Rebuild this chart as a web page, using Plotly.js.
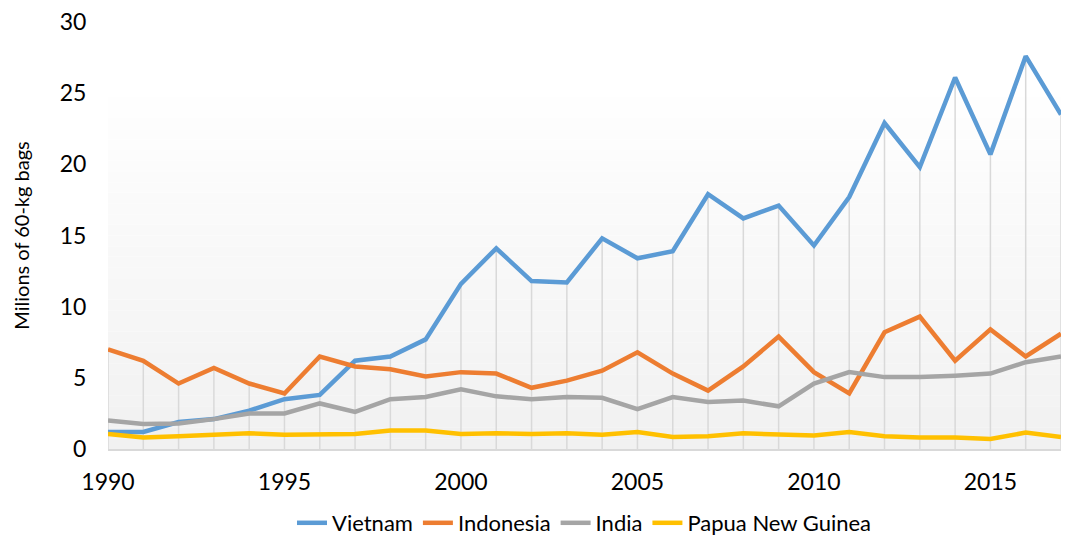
<!DOCTYPE html>
<html>
<head>
<meta charset="utf-8">
<script src="https://cdn.plot.ly/plotly-3.0.1.min.js"></script>
<style>html,body{margin:0;padding:0;background:#fff;}#chart{width:1065px;height:544px;}</style>
</head>
<body>
<div id="chart"></div>
<script>
var years = [1990,1991,1992,1993,1994,1995,1996,1997,1998,1999,2000,2001,2002,2003,2004,2005,2006,2007,2008,2009,2010,2011,2012,2013,2014,2015,2016,2017];
var vietnam = [1.2,1.2,1.9,2.1,2.7,3.5,3.8,6.2,6.5,7.7,11.6,14.1,11.8,11.7,14.8,13.4,13.9,17.9,16.2,17.1,14.3,17.7,22.9,19.8,26.1,20.7,27.6,23.5];
var indonesia = [7.0,6.2,4.6,5.7,4.6,3.9,6.5,5.8,5.6,5.1,5.4,5.3,4.3,4.8,5.5,6.8,5.3,4.1,5.8,7.9,5.4,3.9,8.2,9.3,6.2,8.4,6.5,8.1];
var india = [2.0,1.75,1.8,2.1,2.5,2.5,3.2,2.6,3.5,3.65,4.2,3.7,3.5,3.65,3.6,2.8,3.65,3.3,3.4,3.0,4.6,5.4,5.05,5.05,5.15,5.3,6.1,6.5];
var png = [1.05,0.8,0.9,1.0,1.1,1.0,1.05,1.05,1.3,1.3,1.05,1.1,1.05,1.1,1.0,1.2,0.85,0.9,1.1,1.05,0.95,1.2,0.9,0.8,0.8,0.7,1.15,0.85];
var seriesNames = ["Vietnam","Indonesia","India","Papua New Guinea"];
var seriesColors = ["#5B9BD5","#ED7D31","#A5A5A5","#FFC000"];
var seriesData = [vietnam, indonesia, india, png];

var font = "Lato, 'Noto Sans', sans-serif";

// drop lines from highest value down to axis
var dx = [], dy = [];
years.forEach(function(yr, i){
  var m = Math.max(vietnam[i], indonesia[i], india[i], png[i]);
  dx.push(yr, yr, null); dy.push(0, m, null);
});
var traces = [{
  x: dx, y: dy, mode: 'lines', type: 'scatter', showlegend: false, hoverinfo: 'skip',
  line: {color: '#d9d9d9', width: 1.5}
}];
seriesData.forEach(function(d, k){
  traces.push({x: years, y: d, name: seriesNames[k], mode: 'lines', type: 'scatter',
    line: {color: seriesColors[k], width: 4.5}});
});

// vertical gradient background bands
var shapes = [];
var nb = 40;
for (var b = 0; b < nb; b++) {
  var t = b / nb; // 0 bottom
  var c = Math.round(241 + (255 - 241) * Math.min(1, (t) / 0.85));
  shapes.push({type: 'rect', xref: 'paper', yref: 'paper', x0: 0, x1: 1, y0: b / nb, y1: (b + 1) / nb,
    fillcolor: 'rgb(' + c + ',' + c + ',' + c + ')', line: {width: 0}, layer: 'below'});
}

var layout = {
  width: 1065, height: 544,
  margin: {l: 108, r: 4, t: 22, b: 95, autoexpand: false},
  paper_bgcolor: '#ffffff', plot_bgcolor: 'rgba(0,0,0,0)',
  font: {family: font, size: 22, color: '#000000'},
  shapes: shapes,
  xaxis: {range: [1990, 2017], tickvals: [1990,1995,2000,2005,2010,2015], ticktext: ['1990','1995','2000','2005','2010','2015'],
    showgrid: false, zeroline: false, showline: true, linecolor: '#d9d9d9', linewidth: 1.5, automargin: false,
    ticks: 'outside', ticklen: 12, tickcolor: 'rgba(0,0,0,0)', tickfont: {size: 23}},
  yaxis: {range: [0, 30], tickvals: [0,5,10,15,20,25,30], showgrid: false, zeroline: false, showline: false, automargin: true,
    ticks: 'outside', ticklen: 16, tickcolor: 'rgba(0,0,0,0)', tickfont: {size: 23},
    title: {text: 'Milions of 60-kg bags', font: {size: 20}, standoff: 24}},
  legend: {orientation: 'h', x: 0.5, xanchor: 'center', yref: 'container', y: 0, yanchor: 'bottom', font: {size: 22},
    traceorder: 'normal'},
  showlegend: true
};
Plotly.newPlot('chart', traces, layout, {displayModeBar: false, staticPlot: true});
</script>
</body>
</html>
